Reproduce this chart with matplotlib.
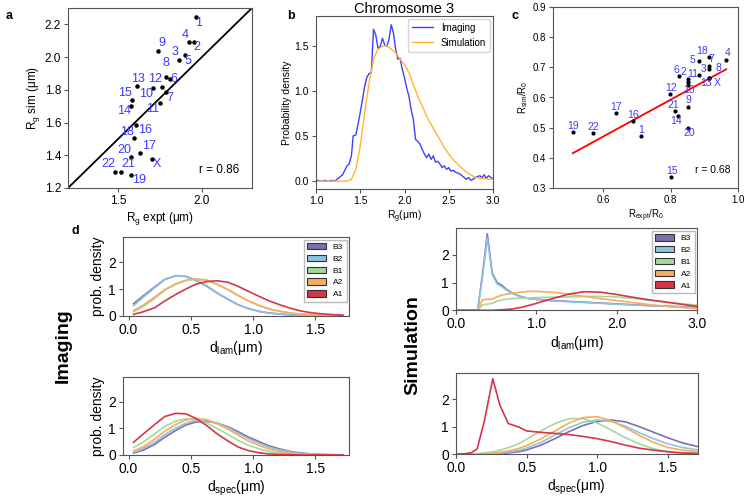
import numpy as np
import matplotlib
matplotlib.use("Agg")
import matplotlib.pyplot as plt
from matplotlib.patches import Patch
from matplotlib.ticker import FormatStrFormatter

plt.rcParams['font.family'] = ['Liberation Sans', 'DejaVu Sans']
plt.rcParams['mathtext.default'] = 'regular'

# ---------------- data ----------------
# panel a: Rg expt vs Rg sim per chromosome
chrom = ['1', '2', '3', '4', '5', '6', '7', '8', '9', '10', '11', '12',
         '13', '14', '15', '16', '17', '18', '19', '20', '21', '22', 'X']
rg_expt = [1.963, 1.955, 1.865, 1.925, 1.902, 1.808, 1.784, 1.788, 1.737, 1.708, 1.751, 1.761,
           1.614, 1.575, 1.584, 1.594, 1.633, 1.608, 1.575, 1.578, 1.516, 1.480, 1.702]
rg_sim = [2.247, 2.094, 1.983, 2.094, 2.013, 1.867, 1.789, 1.877, 2.037, 1.810, 1.718, 1.816,
          1.824, 1.699, 1.739, 1.505, 1.413, 1.586, 1.281, 1.387, 1.296, 1.296, 1.377]
r_a = 0.86

# panel b: Rg distribution of chromosome 3
rg_x = [1.0, 1.025, 1.05, 1.075, 1.1, 1.125, 1.15, 1.175, 1.2, 1.225, 1.25, 1.275, 1.3, 1.325,
        1.35, 1.375, 1.4, 1.42, 1.45, 1.475, 1.5, 1.525, 1.55, 1.575, 1.6, 1.625, 1.65, 1.675,
        1.7, 1.725, 1.75, 1.775, 1.8, 1.825, 1.85, 1.875, 1.9, 1.925, 1.95, 1.975, 2.0, 2.025,
        2.05, 2.075, 2.1, 2.125, 2.15, 2.175, 2.2, 2.225, 2.25, 2.275, 2.3, 2.325, 2.35, 2.375,
        2.4, 2.425, 2.45, 2.475, 2.5, 2.525, 2.55, 2.575, 2.6, 2.625, 2.65, 2.675, 2.7, 2.725,
        2.75, 2.775, 2.8, 2.825, 2.85, 2.875, 2.9, 2.925, 2.95, 2.975, 3.0]
rg_img = [0.0, 0.01, 0.0, 0.0, 0.01, 0.0, 0.0, 0.01, 0.0, 0.01, 0.03, 0.05, 0.07, 0.12,
          0.17, 0.19, 0.28, 0.5, 0.51, 0.63, 0.76, 0.9, 1.05, 1.15, 1.19, 1.2, 1.68, 1.62,
          1.47, 1.49, 1.58, 1.51, 1.49, 1.57, 1.73, 1.64, 1.46, 1.35, 1.36, 1.24, 1.14, 1.03,
          0.94, 0.79, 0.68, 0.46, 0.44, 0.41, 0.35, 0.30, 0.26, 0.30, 0.24, 0.28, 0.21, 0.22,
          0.19, 0.15, 0.17, 0.13, 0.15, 0.11, 0.12, 0.10, 0.09, 0.08, 0.06, 0.04, 0.02, 0.04,
          0.01, 0.02, 0.04, 0.05, 0.06, 0.04, 0.07, 0.03, 0.06, 0.04, 0.03]
rg_sim_x = [1.0, 1.1, 1.2, 1.3, 1.35, 1.4, 1.45, 1.5, 1.55, 1.6, 1.65, 1.7, 1.75, 1.8, 1.85,
            1.9, 1.95, 2.0, 2.05, 2.1, 2.15, 2.2, 2.25, 2.3, 2.35, 2.4, 2.45, 2.5, 2.55, 2.6,
            2.65, 2.7, 2.75, 2.8, 2.85, 2.9, 2.95, 3.0]
rg_sim_d = [0.0, 0.0, 0.0, 0.0, 0.0, 0.02, 0.13, 0.39, 0.76, 1.09, 1.35, 1.46, 1.49, 1.5, 1.46,
            1.42, 1.35, 1.29, 1.2, 1.07, 0.94, 0.83, 0.72, 0.63, 0.54, 0.46, 0.37, 0.30, 0.24,
            0.19, 0.14, 0.10, 0.07, 0.04, 0.03, 0.03, 0.02, 0.02]

# panel c: Rsim/R0 vs Rexpt/R0
rexp = [0.711, 0.852, 0.884, 0.965, 0.884, 0.825, 0.913, 0.913, 0.852, 0.852, 0.852, 0.797,
        0.913, 0.822, 0.800, 0.687, 0.637, 0.913, 0.509, 0.850, 0.812, 0.570, 0.913]
rsim = [0.471, 0.662, 0.675, 0.723, 0.720, 0.670, 0.703, 0.694, 0.567, 0.643, 0.652, 0.612,
        0.664, 0.540, 0.336, 0.521, 0.547, 0.734, 0.486, 0.499, 0.555, 0.481, 0.664]
fit_c = [0.61, 0.105]   # slope, intercept of red fit line
r_c = 0.68

# panel d: radial distance distributions per compartment
comps = ['B3', 'B2', 'B1', 'A2', 'A1']
comp_colors = ['#7e6db0', '#8cc4e2', '#a3d99b', '#fdaa5c', '#d8344a']

img_x = [0.04, 0.12, 0.21, 0.29, 0.38, 0.46, 0.54, 0.63, 0.71, 0.80, 0.88, 0.96, 1.05, 1.13,
         1.22, 1.30, 1.38, 1.47, 1.55, 1.64, 1.72]
img_lam = {
    'B3': [0.45, 0.75, 1.08, 1.36, 1.50, 1.47, 1.33, 1.10, 0.85, 0.61, 0.41, 0.27, 0.16, 0.10,
           0.06, 0.03, 0.02, 0.01, 0.01, 0.0, 0.0],
    'B2': [0.38, 0.70, 1.05, 1.35, 1.50, 1.48, 1.35, 1.12, 0.86, 0.62, 0.42, 0.27, 0.16, 0.10,
           0.06, 0.03, 0.02, 0.01, 0.01, 0.0, 0.0],
    'B1': [0.15, 0.35, 0.65, 0.95, 1.18, 1.32, 1.37, 1.32, 1.17, 0.97, 0.75, 0.55, 0.38, 0.25,
           0.16, 0.10, 0.06, 0.04, 0.02, 0.01, 0.01],
    'A2': [0.20, 0.40, 0.70, 0.98, 1.20, 1.33, 1.38, 1.33, 1.18, 0.98, 0.76, 0.56, 0.38, 0.25,
           0.16, 0.10, 0.06, 0.04, 0.02, 0.01, 0.01],
    'A1': [0.05, 0.15, 0.30, 0.55, 0.80, 1.00, 1.18, 1.28, 1.31, 1.25, 1.10, 0.92, 0.72, 0.55,
           0.40, 0.28, 0.18, 0.11, 0.07, 0.04, 0.02],
}
img_spec = {
    'B3': [0.07, 0.19, 0.40, 0.67, 0.93, 1.13, 1.24, 1.27, 1.20, 1.06, 0.88, 0.68, 0.50, 0.34,
           0.22, 0.13, 0.08, 0.04, 0.02, 0.01, 0.01],
    'B2': [0.10, 0.25, 0.48, 0.77, 1.02, 1.20, 1.30, 1.30, 1.20, 1.03, 0.82, 0.62, 0.44, 0.29,
           0.18, 0.11, 0.06, 0.03, 0.02, 0.01, 0.0],
    'B1': [0.28, 0.50, 0.80, 1.08, 1.28, 1.36, 1.33, 1.20, 1.00, 0.77, 0.55, 0.37, 0.23, 0.13,
           0.07, 0.04, 0.02, 0.01, 0.01, 0.0, 0.0],
    'A2': [0.15, 0.32, 0.60, 0.90, 1.15, 1.32, 1.38, 1.33, 1.18, 0.97, 0.75, 0.53, 0.36, 0.22,
           0.13, 0.07, 0.04, 0.02, 0.01, 0.01, 0.0],
    'A1': [0.48, 0.80, 1.15, 1.45, 1.57, 1.55, 1.38, 1.10, 0.80, 0.52, 0.30, 0.17, 0.08, 0.04,
           0.02, 0.01, 0.0, 0.0, 0.0, 0.0, 0.0],
}

sim_lam_x = [0.0, 0.1, 0.2, 0.27, 0.33, 0.39, 0.45, 0.51, 0.57, 0.63, 0.7, 0.8, 0.9, 1.0, 1.2,
             1.4, 1.6, 1.8, 2.0, 2.2, 2.4, 2.6, 2.8, 3.0]
sim_lam = {
    'B3': [0, 0, 0, 0, 1.30, 2.75, 1.35, 1.00, 0.90, 0.75, 0.62, 0.50, 0.43, 0.40, 0.35, 0.32,
           0.29, 0.26, 0.23, 0.20, 0.17, 0.15, 0.13, 0.11],
    'B2': [0, 0, 0, 0, 1.20, 2.60, 1.30, 0.95, 0.85, 0.72, 0.60, 0.49, 0.42, 0.39, 0.34, 0.31,
           0.28, 0.25, 0.22, 0.19, 0.17, 0.15, 0.12, 0.10],
    'B1': [0, 0, 0, 0, 0.20, 0.22, 0.25, 0.33, 0.37, 0.40, 0.42, 0.44, 0.45, 0.46, 0.47, 0.48,
           0.50, 0.50, 0.48, 0.43, 0.36, 0.30, 0.24, 0.18],
    'A2': [0, 0, 0, 0.02, 0.38, 0.40, 0.40, 0.48, 0.55, 0.58, 0.61, 0.65, 0.68, 0.68, 0.65,
           0.58, 0.50, 0.42, 0.35, 0.28, 0.21, 0.15, 0.10, 0.07],
    'A1': [0, 0, 0, 0, 0, 0, 0, 0.01, 0.02, 0.03, 0.05, 0.10, 0.17, 0.25, 0.42, 0.58, 0.67,
           0.65, 0.57, 0.47, 0.38, 0.30, 0.22, 0.14],
}

sim_spec_x = [0.0, 0.06, 0.11, 0.15, 0.2, 0.26, 0.31, 0.37, 0.45, 0.5, 0.6, 0.7, 0.8, 0.9, 1.0,
              1.1, 1.2, 1.3, 1.4, 1.5, 1.6, 1.71]
sim_spec = {
    'B3': [0, 0, 0, 0, 0, 0.01, 0.02, 0.05, 0.10, 0.16, 0.33, 0.57, 0.83, 1.05, 1.20, 1.25,
           1.18, 1.00, 0.80, 0.60, 0.42, 0.28],
    'B2': [0, 0, 0, 0, 0.01, 0.02, 0.04, 0.08, 0.15, 0.23, 0.43, 0.70, 0.97, 1.17, 1.25, 1.20,
           1.02, 0.78, 0.56, 0.38, 0.25, 0.16],
    'B1': [0, 0, 0.01, 0.02, 0.05, 0.09, 0.15, 0.24, 0.40, 0.55, 0.85, 1.12, 1.30, 1.30, 1.14,
           0.88, 0.60, 0.37, 0.20, 0.10, 0.05, 0.03],
    'A2': [0, 0, 0, 0.01, 0.02, 0.04, 0.07, 0.12, 0.22, 0.32, 0.56, 0.85, 1.14, 1.34, 1.37,
           1.22, 0.96, 0.68, 0.43, 0.25, 0.15, 0.10],
    'A1': [0, 0.02, 0.06, 0.20, 1.20, 2.75, 1.80, 1.12, 0.98, 0.85, 0.80, 0.76, 0.72, 0.65,
           0.57, 0.46, 0.33, 0.22, 0.15, 0.09, 0.05, 0.03],
}

# label offsets (pixels) for the chromosome names
off_a = [(3, -6), (3, -5), (-4, 8), (-4, 7), (3, -6), (4, 0), (4, -6), (0, 14), (4, 8),
         (-7, -6), (-8, -6), (-7, 8), (1, 7), (-7, -5), (-7, 7), (11, 8), (9, 7), (-9, -7),
         (8, -5), (-7, 7), (7, 8), (-7, 8), (5, -5)]
off_c = [(0, 6), (-5, 7), (5, 6), (1, 7), (-7, 1), (-3, 6), (3, 7), (10, 1), (0, 7),
         (1, -5), (4, 8), (1, 6), (-3, -5), (-2, -5), (1, 6), (0, 6), (0, 6), (-7, 6),
         (0, 6), (2, -5), (-1, 6), (0, 6), (8, -5)]

# ---------------- figure ----------------
W, H = 747, 501
fig = plt.figure(figsize=(W / 100, H / 100), dpi=100)
spine_col = '#555555'
lab_blue = '#3a3aff'


def px_axes(l, t, r, b):
    ax = fig.add_axes([l / W, 1 - b / H, (r - l) / W, (b - t) / H])
    for s in ax.spines.values():
        s.set_color(spine_col)
        s.set_linewidth(0.8)
    ax.tick_params(color=spine_col, length=3, width=0.8, pad=2)
    return ax


# ---- a ----
ax = px_axes(68, 8, 252, 188)
ax.plot([1.2, 2.3], [1.2, 2.3], color='black', lw=1.3)
ax.scatter(rg_expt, rg_sim, s=5, color='black', zorder=3)
for name, x, y, (dx, dy) in zip(chrom, rg_expt, rg_sim, off_a):
    ax.annotate(name, (x, y), xytext=(dx * 0.72, dy * 0.72), textcoords='offset points',
                ha='center', va='center', color=lab_blue, fontsize=9)
ax.set_xlim(1.2, 2.3)
ax.set_ylim(1.2, 2.3)
ax.set_xticks([1.5, 2.0])
ax.set_yticks([1.2, 1.4, 1.6, 1.8, 2.0, 2.2])
ax.tick_params(labelsize=8.5)
ax.set_xlabel('R$_g$ expt (μm)', fontsize=8.5, labelpad=2)
ax.set_ylabel('R$_g$ sim (μm)', fontsize=8.5, labelpad=2)
ax.text(0.93, 0.1, 'r = 0.86', transform=ax.transAxes, ha='right', va='center', fontsize=8.5)
fig.text(6 / W, 1 - 16 / H, 'a', fontsize=9, fontweight='bold', va='center')

# ---- b ----
ax = px_axes(316, 16, 493, 189)
ax.plot(rg_x, rg_img, color='#4040ff', lw=1.0, label='Imaging')
ax.plot(rg_sim_x, rg_sim_d, color='#ffb530', lw=1.0, label='Simulation')
ax.set_xlim(1.0, 3.0)
ax.set_ylim(-0.087, 1.827)
ax.set_xticks([1.0, 1.5, 2.0, 2.5, 3.0])
ax.set_yticks([0.0, 0.5, 1.0, 1.5])
ax.tick_params(labelsize=7.5)
ax.set_xlabel('R$_g$(μm)', fontsize=7.5, labelpad=2)
ax.set_ylabel('Probability density', fontsize=7.5, labelpad=2)
ax.set_title('Chromosome 3', fontsize=10.5, pad=2)
ax.legend(loc='upper right', fontsize=7, borderaxespad=0.3, handlelength=2.2)
fig.text(287 / W, 1 - 16 / H, 'b', fontsize=9, fontweight='bold', va='center')

# ---- c ----
ax = px_axes(553, 7, 738, 188)
xf = np.array([min(rexp), max(rexp)])
ax.plot(xf, fit_c[0] * xf + fit_c[1], color='red', lw=1.3)
ax.scatter(rexp, rsim, s=4, color='black', zorder=3)
for name, x, y, (dx, dy) in zip(chrom, rexp, rsim, off_c):
    ax.annotate(name, (x, y), xytext=(dx * 0.72, dy * 0.72), textcoords='offset points',
                ha='center', va='center', color=lab_blue, fontsize=7.5)
ax.set_xlim(0.45, 1.0)
ax.set_ylim(0.3, 0.9)
ax.set_xticks([0.6, 0.8, 1.0])
ax.set_yticks([0.3, 0.4, 0.5, 0.6, 0.7, 0.8, 0.9])
ax.tick_params(labelsize=7)
ax.set_xlabel('R$_{expt}$/R$_0$', fontsize=7, labelpad=2)
ax.set_ylabel('R$_{sim}$/R$_0$', fontsize=7, labelpad=2)
ax.text(0.96, 0.1, 'r = 0.68', transform=ax.transAxes, ha='right', va='center', fontsize=7.5)
fig.text(512 / W, 1 - 16 / H, 'c', fontsize=9, fontweight='bold', va='center')

# ---- d ----
legend_handles = [Patch(facecolor=c, edgecolor='#333333', lw=0.8, label=n)
                  for n, c in zip(comps, comp_colors)]


def dist_panel(rect, xs, curves, xlim, xticks, xlabel, ylabel, legend):
    ax = px_axes(*rect)
    for n, c in zip(comps, comp_colors):
        ax.plot(xs, curves[n], color=c, lw=1.2)
    ax.set_xlim(*xlim)
    ax.set_ylim(0, 2.95)
    ax.set_xticks(xticks)
    ax.xaxis.set_major_formatter(FormatStrFormatter('%.1f'))
    ax.set_yticks([0, 1, 2])
    ax.tick_params(labelsize=10)
    ax.set_xlabel(xlabel, fontsize=10, labelpad=2)
    if ylabel:
        ax.set_ylabel(ylabel, fontsize=10, labelpad=2)
    if legend:
        ax.legend(handles=legend_handles, loc='upper right', fontsize=6, fancybox=False,
                  edgecolor='#aaaaaa', borderaxespad=0.3, labelspacing=0.45,
                  handlelength=2.3, handleheight=0.8)
    return ax


dist_panel((123, 237, 349, 315.7), img_x, img_lam, (-0.045, 1.77), [0.0, 0.5, 1.0, 1.5],
           'd$_{lam}$(μm)', 'prob. density', True)
dist_panel((123, 376.7, 349, 455), img_x, img_spec, (-0.045, 1.77), [0.0, 0.5, 1.0, 1.5],
           'd$_{spec}$(μm)', 'prob. density', False)
dist_panel((456, 228.3, 697, 310.3), sim_lam_x, sim_lam, (0, 3.0), [0.0, 1.0, 2.0, 3.0],
           'd$_{lam}$(μm)', None, True)
dist_panel((456, 373.3, 697.7, 454.3), sim_spec_x, sim_spec, (0, 1.71), [0.0, 0.5, 1.0, 1.5],
           'd$_{spec}$(μm)', None, False)

fig.text(71 / W, 1 - 231 / H, 'd', fontsize=9, fontweight='bold', va='center')
fig.text(63 / W, 1 - 346 / H, 'Imaging', fontsize=14, fontweight='bold', rotation=90,
         ha='center', va='center')
fig.text(413 / W, 1 - 345 / H, 'Simulation', fontsize=14, fontweight='bold', rotation=90,
         ha='center', va='center')

fig.savefig('out.png', dpi=100)
